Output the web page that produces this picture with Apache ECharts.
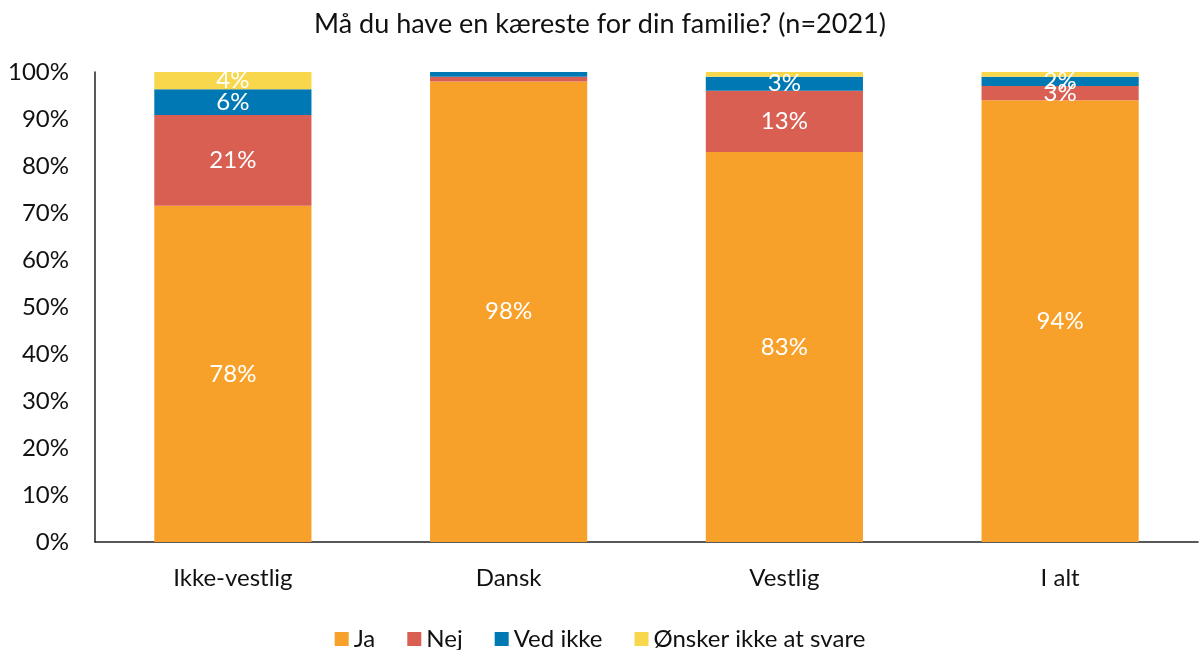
<!DOCTYPE html>
<html>
<head>
<meta charset="utf-8">
<script src="https://cdn.jsdelivr.net/npm/echarts@6/dist/echarts.min.js"></script>
<style>
html, body { margin: 0; padding: 0; background: #fff; }
#plot { width: 1200px; height: 650px; }
</style>
</head>
<body>
<div id="plot"></div>
<script>
var categories = ['Ikke-vestlig', 'Dansk', 'Vestlig', 'I alt'];
var seriesNames = ['Ja', 'Nej', 'Ved ikke', 'Ønsker ikke at svare'];
// raw percentages as printed on the bars
var ja = [78, 98, 83, 94];
var nej = [21, 1, 13, 3];
var vedIkke = [6, 1, 3, 2];
var oensker = [4, 0, 1, 1];
var colors = ['#F8A12A', '#D95F53', '#0078B4', '#F8D74D'];

var font = 'Lato, "Open Sans", sans-serif';
var raw = [ja, nej, vedIkke, oensker];

// Excel-style 100% stacked: each column is rescaled to its own total
function totals (i) {
	var s = 0;
	for (var k = 0; k < raw.length; k++) s += raw[k][i];
	return s;
}

var series = [];
for (var k = 0; k < raw.length; k++) {
	var d = [];
	for (var i = 0; i < categories.length; i++) {
		d.push({ value: raw[k][i] / totals(i) * 100, raw: raw[k][i] });
	}
	series.push({
		name: seriesNames[k],
		type: 'bar',
		stack: 'total',
		barWidth: '57%',
		data: d,
		itemStyle: { color: colors[k] },
		label: {
			show: true,
			position: 'inside',
			color: '#fff',
			fontSize: 24,
			fontFamily: font,
			formatter: function (p) {
				return p.data.raw >= 2 ? p.data.raw + '%' : '';
			}
		}
	});
}

var option = {
	animation: false,
	title: {
		text: 'Må du have en kæreste for din familie? (n=2021)',
		left: 'center',
		top: 6,
		textStyle: { fontSize: 27, fontWeight: 'normal', color: '#111', fontFamily: font }
	},
	legend: {
		top: 622,
		left: 'center',
		itemWidth: 14,
		itemHeight: 14,
		itemGap: 32,
		icon: 'rect',
		textStyle: { fontSize: 24, color: '#111', fontFamily: font }
	},
	grid: { left: 95, right: 2, top: 72, bottom: 108, containLabel: false },
	xAxis: {
		type: 'category',
		data: categories,
		axisLine: { lineStyle: { color: '#222', width: 1.5 } },
		axisTick: { show: false },
		axisLabel: { fontSize: 24, color: '#111', margin: 24, fontFamily: font }
	},
	yAxis: {
		type: 'value',
		min: 0,
		max: 100,
		interval: 10,
		axisLine: { show: true, lineStyle: { color: '#222', width: 1.5 } },
		axisTick: { show: false },
		splitLine: { show: false },
		axisLabel: { formatter: '{value}%', fontSize: 24, color: '#111', margin: 26, fontFamily: font }
	},
	series: series
};

var myChart = echarts.init(document.getElementById('plot'));
myChart.setOption(option);
</script>
</body>
</html>
